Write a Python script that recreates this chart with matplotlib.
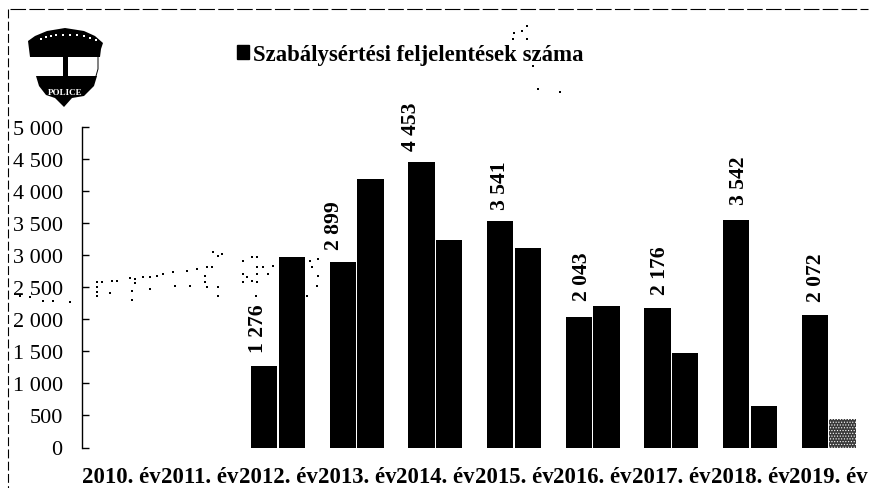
import matplotlib
matplotlib.use("Agg")
import matplotlib.pyplot as plt
from matplotlib.patches import Polygon, Rectangle
from matplotlib.lines import Line2D

years = ["2010. év", "2011. év", "2012. év", "2013. év", "2014. év",
         "2015. év", "2016. év", "2017. év", "2018. év", "2019. év"]
reports = [None, None, 1276, 2899, 4453, 3541, 2043, 2176, 3542, 2072]
second = [None, None, 2970, 4190, 3230, 3120, 2200, 1470, 650, 440]
y_ticks = [0, 500, 1000, 1500, 2000, 2500, 3000, 3500, 4000, 4500, 5000]
title_text = "Szabálysértési feljelentések száma"

# label nudges in pixels (x shift from bar centre, gap above bar)
label_dx = [0, 0, -6, -9, -11, 0, 3, 2, 3, 1]
label_dy = [0, 0, 14, 13, 12, 12, 17, 14, 16, 14]

W, H = 874, 489
plt.rcParams["font.family"] = ["Liberation Serif", "DejaVu Serif"]
plt.rcParams["hatch.color"] = "white"
plt.rcParams["hatch.linewidth"] = 0.5

def fmt(v):
    return f"{v:,}".replace(",", " ")

fig = plt.figure(figsize=(W / 100, H / 100), dpi=100, facecolor="white")
ax = fig.add_axes([81.5 / W, 1 - 448.5 / H, (868 - 81.5) / W, 320.5 / H])

width = 0.335
off = 0.176
for i, (a, b) in enumerate(zip(reports, second)):
    if a is None:
        continue
    ax.bar(i - off, a, width, color="black", linewidth=0)
    ax.annotate(fmt(a), (i - off, a), xytext=(label_dx[i] * 0.72, label_dy[i] * 0.72),
                textcoords="offset points", rotation=90, ha="center", va="bottom",
                fontsize=15.6, fontweight="bold", color="black")
    if i == len(years) - 1:
        ax.bar(i + off, b, width, color="#3a3a3a", hatch="......", linewidth=0)
    else:
        ax.bar(i + off, b, width, color="black", linewidth=0)

ax.set_xlim(-0.5, 9.5)
ax.set_ylim(0, 5000)
ax.set_yticks(y_ticks)
ax.set_yticklabels([fmt(v) for v in y_ticks], fontsize=16, color="black")
ax.set_xticks(range(len(years)))
ax.set_xticklabels(years, fontsize=16.4, fontweight="bold", color="black")
ax.tick_params(axis="y", direction="in", length=5, width=1, pad=13.5)
ax.tick_params(axis="x", length=0, pad=13.5)
for s in ("top", "right", "bottom"):
    ax.spines[s].set_visible(False)
ax.spines["left"].set_linewidth(1)
ax.patch.set_alpha(0)

fig.legend(handles=[Rectangle((0, 0), 1, 1, color="black")], labels=[title_text],
           loc="center left", bbox_to_anchor=(237 / W, 1 - 55.5 / H), frameon=False,
           prop={"size": 16.4, "weight": "bold"}, handlelength=0.53, handleheight=0.6,
           handletextpad=0.18, borderpad=0, borderaxespad=0)

# overlay in pixel coordinates: logo, scan frame and scan specks
ov = fig.add_axes([0, 0, 1, 1], zorder=5)
ov.set_xlim(0, W)
ov.set_ylim(H, 0)
ov.axis("off")
ov.add_patch(Polygon([(28, 42), (35, 37), (47, 32), (65, 29), (84, 32), (95, 37), (103, 44),
                      (101, 50), (100, 58), (30, 58), (29, 50)], color="black", lw=0))
ov.add_patch(Rectangle((63, 57), 4.5, 20, color="black", lw=0))
ov.add_patch(Polygon([(36, 77), (97, 77), (94, 87), (84, 97), (72, 99), (64, 108), (55, 99),
                      (46, 96), (39, 87)], color="black", lw=0))
ov.plot([98, 98, 96], [58, 70, 77], color="black", lw=0.7)
ov.text(65, 93, "POLICE", color="white", fontsize=6.5, fontweight="bold", ha="center", va="center")
# illegible arc lettering on the badge
arc = [(41, 40), (46, 38), (51, 37), (56, 36), (63, 36), (70, 36), (77, 36), (84, 37), (90, 39), (96, 41)]
ov.scatter(*zip(*arc), s=2.5, color="white", marker="s", linewidths=0)

ov.add_line(Line2D([10, 868], [10, 10], color="black", lw=0.8, ls=(0, (14, 3))))
ov.add_line(Line2D([8, 8], [10, 489], color="black", lw=0.8, ls=(0, (8, 3))))

specks_a = [(262,145),(262,160),(262,175),(262,185),(300,178),(275,145),(305,142),(320,140),
            (360,132),(375,135),(375,148),(400,130),(420,130),(440,125),(460,120),(490,115),
            (530,110),(560,105),(590,100),(605,100),(585,125),(585,145),(590,160),(625,160),
            (625,185),(495,155),(540,155),(420,165),(365,170),(365,197),(610,55),(625,65),
            (635,60),(725,70),(740,70),(700,80),(700,120),(710,130),(725,140),(700,145),
            (740,100),(760,100),(790,95),(740,120),(740,145),(775,120),(737,185),(900,80),
            (925,75),(905,100),(925,125),(920,155),(890,185),(30,185),(60,190),(100,200),
            (130,200),(180,205)]
specks_b = [(553,103),(575,95),(590,82),(550,120),(590,120),(610,200),(625,270),(690,278)]
ov.scatter([10 + x / 3 for x, _ in specks_a], [235 + y / 3 for _, y in specks_a],
           s=1.0, color="black", marker="s", linewidths=0)
ov.scatter([330 + x / 3 for x, _ in specks_b], [y / 3 for _, y in specks_b],
           s=1.0, color="black", marker="s", linewidths=0)

fig.savefig("out.png", dpi=100, facecolor="white")
